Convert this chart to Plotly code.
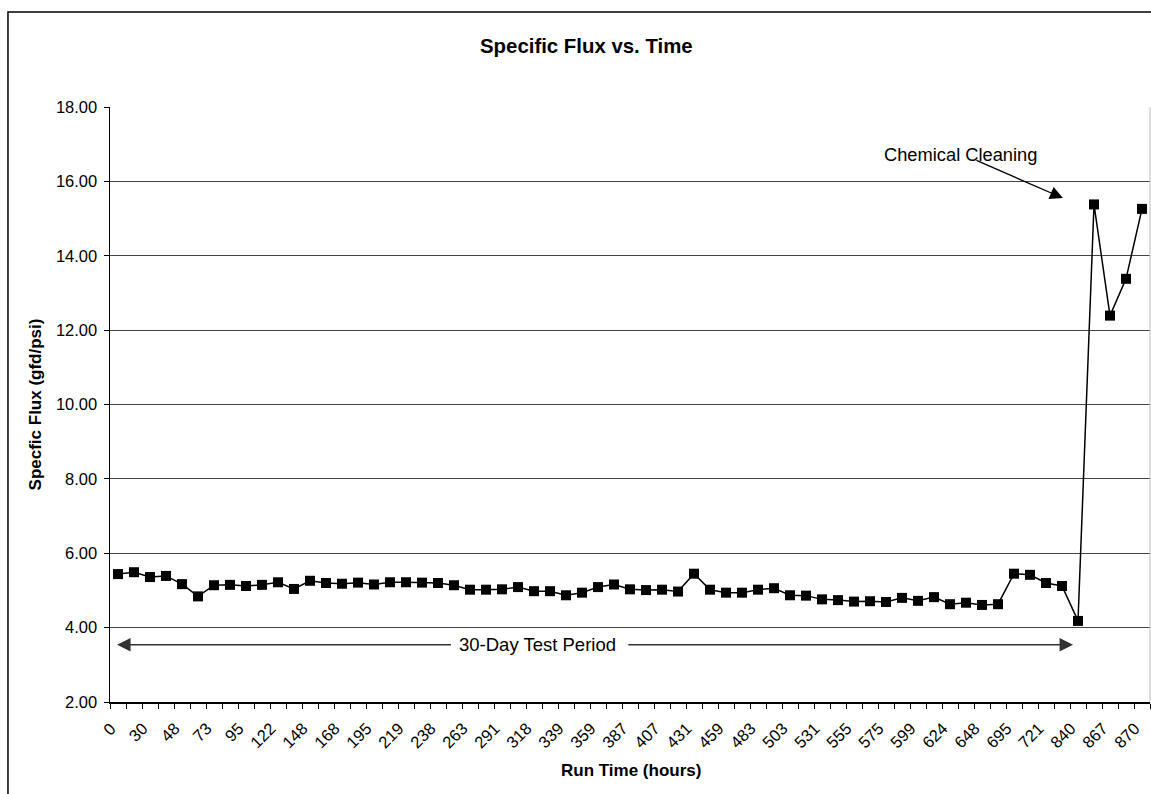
import plotly.graph_objects as go

# ---- data ----
flux = [5.44, 5.49, 5.36, 5.39, 5.17, 4.84, 5.14, 5.15, 5.12, 5.15,
        5.22, 5.04, 5.26, 5.20, 5.18, 5.21, 5.16, 5.22, 5.22, 5.21,
        5.20, 5.14, 5.02, 5.02, 5.03, 5.09, 4.98, 4.98, 4.87, 4.94,
        5.09, 5.16, 5.03, 5.01, 5.02, 4.97, 5.45, 5.02, 4.94, 4.94,
        5.02, 5.06, 4.87, 4.86, 4.76, 4.74, 4.70, 4.71, 4.69, 4.80,
        4.72, 4.82, 4.63, 4.67, 4.61, 4.63, 5.45, 5.42, 5.20, 5.12,
        4.18, 15.38, 12.39, 13.38, 15.26]
tick_labels = ["0", "30", "48", "73", "95", "122", "148", "168", "195", "219",
               "238", "263", "291", "318", "339", "359", "387", "407", "431", "459",
               "483", "503", "531", "555", "575", "599", "624", "648", "695", "721",
               "840", "867", "870"]
label_step = 2

idx = list(range(len(flux)))
tickvals = idx[::label_step]

FONT = "Arial, Liberation Sans, sans-serif"

fig = go.Figure()
fig.add_trace(go.Scatter(
    x=idx, y=flux, mode="lines+markers",
    line=dict(color="black", width=1.5),
    marker=dict(symbol="square", size=10, color="black"),
    showlegend=False, cliponaxis=False, hoverinfo="skip",
))

fig.update_layout(
    width=1151, height=794,
    margin=dict(l=110, r=1, t=107, b=92),
    plot_bgcolor="white", paper_bgcolor="white",
    font=dict(family=FONT, color="black", size=16),
)

fig.update_xaxes(
    range=[-0.5, len(flux) - 0.5],
    tickmode="array", tickvals=tickvals, ticktext=tick_labels,
    tickangle=-45, ticks="", showgrid=False, zeroline=False,
    showline=True, linecolor="black", linewidth=1.5,
    tickfont=dict(size=16.5, family=FONT),
    ticklabelshift=-7, ticklabelstandoff=9,
    minor=dict(tickmode="linear", tick0=-0.5, dtick=1, ticks="outside",
               ticklen=5, tickcolor="black", tickwidth=1, showgrid=False),
)
fig.update_yaxes(
    range=[2, 18], dtick=2, tick0=2, tickformat=".2f",
    ticks="outside", ticklen=5, tickcolor="black",
    showgrid=True, gridcolor="#444", gridwidth=1, zeroline=False,
    showline=True, linecolor="black", linewidth=1.5,
    tickfont=dict(size=16.5, family=FONT), ticklabelstandoff=3,
)

anns = []
# Title and axis titles
anns.append(dict(text="<b>Specific Flux vs. Time</b>", xref="paper", yref="paper",
                 x=0.4577, y=1.1025, xanchor="center", yanchor="middle",
                 showarrow=False, font=dict(size=20.4, family=FONT)))
anns.append(dict(text="<b>Run Time (hours)</b>", xref="paper", yref="paper",
                 x=0.501, y=-0.1143, xanchor="center", yanchor="middle",
                 showarrow=False, font=dict(size=17, family=FONT)))
anns.append(dict(text="<b>Specfic Flux (gfd/psi)</b>", xref="paper", yref="paper",
                 x=-0.0712, y=0.5, xanchor="center", yanchor="middle", textangle=-90,
                 showarrow=False, font=dict(size=17, family=FONT)))
# Chemical cleaning
anns.append(dict(text="Chemical Cleaning", x=52.66, y=16.71, xref="x", yref="y",
                 xanchor="center", yanchor="middle", showarrow=False,
                 font=dict(size=18.3, family=FONT)))
anns.append(dict(text="", x=59.06, y=15.55, ax=53.56, ay=16.58, xref="x", yref="y",
                 axref="x", ayref="y", showarrow=True, arrowhead=2, arrowsize=2,
                 arrowwidth=1.3, arrowcolor="black"))
# 30-day test period
anns.append(dict(text="", x=-0.06, y=3.537, ax=20.9, ay=3.537, xref="x", yref="y",
                 axref="x", ayref="y", showarrow=True, arrowhead=2, arrowsize=1.8,
                 arrowwidth=1.5, arrowcolor="#333"))
anns.append(dict(text="", x=59.69, y=3.537, ax=31.8, ay=3.537, xref="x", yref="y",
                 axref="x", ayref="y", showarrow=True, arrowhead=2, arrowsize=1.8,
                 arrowwidth=1.5, arrowcolor="#333"))
anns.append(dict(text="30-Day Test Period", x=26.22, y=3.537, xref="x", yref="y",
                 xanchor="center", yanchor="middle", showarrow=False,
                 font=dict(size=18.5, family=FONT)))
fig.update_layout(annotations=anns)

# chart border (left/top visible) and right plot edge
fig.add_shape(type="rect", xref="paper", yref="paper",
              x0=-0.0981, x1=1.02, y0=-0.2, y1=1.1597,
              line=dict(color="black", width=1.5), layer="above")
fig.add_shape(type="line", xref="paper", yref="paper",
              x0=1, x1=1, y0=0, y1=1, line=dict(color="#bbb", width=1))

fig.write_html(
    "out.html",
    config={"displayModeBar": False, "staticPlot": True},
    post_script="document.body.style.margin='0';document.body.style.overflow='hidden';",
)
